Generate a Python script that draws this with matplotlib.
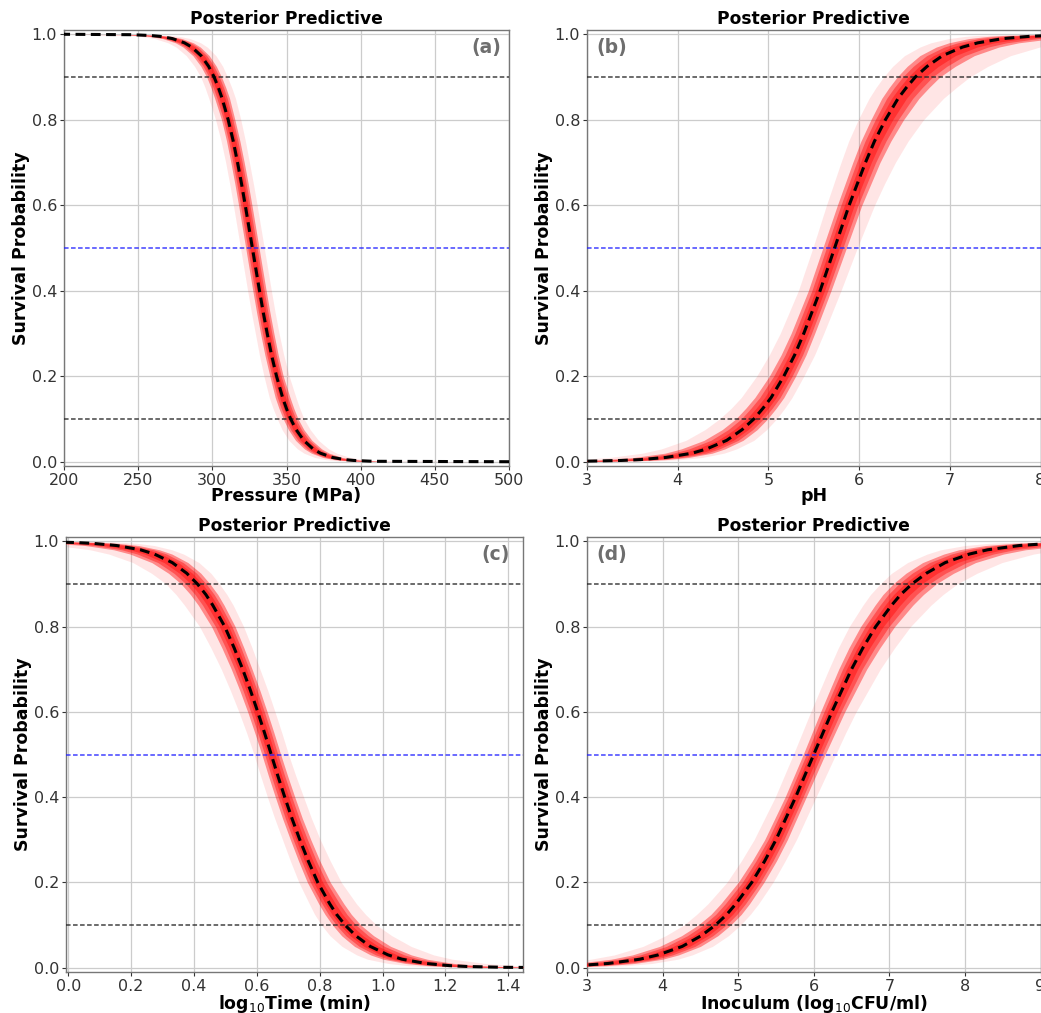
import matplotlib
matplotlib.use("Agg")
import matplotlib.pyplot as plt
import numpy as np

levels = [0, 0.001, 0.003, 0.005, 0.01, 0.02, 0.03, 0.05, 0.075, 0.1, 0.125, 0.15,
          0.2, 0.25, 0.3, 0.35, 0.4, 0.45, 0.5, 0.55, 0.6, 0.65, 0.7, 0.75,
          0.8, 0.85, 0.875, 0.9, 0.925, 0.95, 0.97, 0.98, 0.99, 0.995, 0.997, 0.999, 1]

# (a) pressure: x of the mean curve at each level, and how far the red
# bundle reaches to the left / right of it (dense part and faint part)
a_mid = [500, 408.2, 395.3, 389.2, 381.0, 372.8, 367.9, 361.6, 356.5, 352.8, 349.9, 347.4,
         343.3, 339.9, 337.0, 334.3, 331.8, 329.4, 327.0, 324.6, 322.2, 319.7, 317.0, 314.1,
         310.7, 306.6, 304.1, 301.2, 297.5, 292.4, 286.1, 281.2, 273.0, 264.8, 258.7, 245.8, 200]
a_core_l = [0, 8, 7.5, 7, 6.5, 6, 5.8, 5.5, 5.2, 5, 5, 5, 4.5, 4.5, 4.5, 4.5, 4.5, 4.5, 4.5,
            4.5, 4.5, 4.5, 4.5, 4.5, 4.5, 5, 5, 5, 5.2, 5.5, 5.8, 6, 6.5, 7, 7.5, 8, 0]
a_core_r = a_core_l
a_faint_l = [0, 14, 13.5, 13, 12, 11, 10.5, 10, 9.5, 9, 9, 9, 8.5, 8.2, 8, 8, 8, 8, 8,
             8, 8, 8, 8, 8.2, 8.5, 9, 9, 9, 9.5, 10, 10.5, 11, 12, 13, 13.5, 14, 0]
a_faint_r = a_faint_l

# (b) pH
b_mid = [2.5, 2.93, 3.38, 3.59, 3.87, 4.16, 4.32, 4.54, 4.71, 4.84, 4.94, 5.03,
         5.17, 5.29, 5.39, 5.48, 5.57, 5.65, 5.73, 5.81, 5.89, 5.98, 6.07, 6.17,
         6.29, 6.43, 6.52, 6.62, 6.75, 6.92, 7.14, 7.31, 7.59, 7.87, 8.08, 8.53, 9.0]
b_core_l = [0, .45, .42, .4, .35, .3, .28, .25, .22, .2, .19, .18, .16, .15, .14, .135, .13, .13, .13,
            .13, .13, .135, .14, .15, .16, .18, .19, .2, .22, .25, .29, .32, .38, .45, .52, .6, 0]
b_core_r = [0, .3, .29, .28, .25, .22, .2, .18, .165, .15, .145, .14, .13, .125, .12, .12, .12, .125, .13,
            .135, .14, .15, .16, .18, .2, .23, .25, .27, .31, .35, .4, .45, .55, .65, .72, .8, 0]
b_faint_l = [0, .8, .75, .7, .62, .55, .5, .45, .41, .38, .35, .33, .3, .28, .26, .25, .24, .24, .24,
             .245, .25, .26, .27, .285, .3, .32, .335, .35, .38, .42, .47, .52, .6, .7, .8, .9, 0]
b_faint_r = [0, .5, .47, .45, .4, .35, .33, .3, .27, .25, .24, .23, .22, .22, .22, .225, .23, .24, .25,
             .265, .28, .3, .33, .37, .42, .5, .55, .6, .67, .75, .85, .95, 1.1, 1.25, 1.35, 1.5, 0]

# (c) log10 time
c_mid = [1.61, 1.385, 1.267, 1.212, 1.138, 1.062, 1.018, 0.961, 0.915, 0.881, 0.854, 0.832,
         0.794, 0.764, 0.737, 0.712, 0.689, 0.667, 0.646, 0.625, 0.603, 0.580, 0.555, 0.528,
         0.498, 0.460, 0.438, 0.411, 0.377, 0.331, 0.274, 0.230, 0.154, 0.080, 0.025, -0.093, -0.2]
c_core_l = [0, .08, .075, .07, .065, .06, .056, .05, .045, .04, .037, .035, .033, .031, .03, .03, .03, .03, .03,
            .031, .032, .034, .036, .039, .042, .046, .049, .052, .058, .065, .077, .085, .1, .12, .135, .15, 0]
c_core_r = [0, .12, .11, .1, .09, .08, .074, .065, .057, .05, .047, .045, .04, .037, .035, .033, .032, .031, .03,
            .03, .03, .03, .03, .031, .033, .036, .038, .04, .045, .05, .056, .06, .07, .08, .09, .1, 0]
c_faint_l = [0, .15, .14, .13, .12, .11, .1, .09, .082, .075, .07, .065, .06, .057, .055, .055, .055, .055, .055,
             .057, .06, .064, .068, .074, .08, .09, .095, .1, .112, .125, .145, .16, .19, .22, .25, .28, 0]
c_faint_r = [0, .25, .23, .21, .19, .16, .145, .13, .115, .1, .092, .085, .075, .07, .065, .062, .06, .057, .055,
             .055, .055, .055, .055, .057, .06, .065, .067, .07, .077, .085, .093, .1, .12, .14, .16, .18, 0]

# (d) inoculum
d_mid = [1.0, 1.91, 2.56, 2.87, 3.28, 3.70, 3.94, 4.26, 4.51, 4.70, 4.85, 4.97,
         5.18, 5.35, 5.50, 5.63, 5.76, 5.88, 6.00, 6.12, 6.24, 6.37, 6.50, 6.65,
         6.82, 7.03, 7.15, 7.30, 7.49, 7.74, 8.06, 8.30, 8.72, 9.13, 9.44, 10.09, 11.0]
d_core_l = [0, .6, .55, .5, .45, .38, .34, .3, .26, .23, .21, .2, .18, .165, .15, .145, .14, .14, .14,
            .145, .15, .16, .17, .185, .2, .22, .235, .25, .27, .3, .34, .38, .45, .5, .55, .6, 0]
d_core_r = [0, .5, .45, .4, .35, .3, .27, .24, .22, .2, .19, .18, .16, .155, .15, .145, .14, .145, .15,
            .16, .17, .185, .2, .225, .25, .28, .3, .32, .36, .4, .45, .5, .6, .7, .8, .9, 0]
d_faint_l = [0, 1.0, .92, .85, .75, .65, .58, .52, .47, .42, .4, .37, .33, .31, .29, .28, .27, .27, .27,
             .275, .28, .29, .3, .325, .35, .38, .4, .42, .46, .5, .56, .62, .72, .82, .9, 1.0, 0]
d_faint_r = [0, .8, .72, .65, .58, .5, .45, .4, .36, .33, .31, .3, .28, .27, .27, .27, .27, .28, .29,
             .3, .32, .35, .38, .42, .46, .52, .56, .6, .67, .75, .85, .95, 1.1, 1.25, 1.35, 1.5, 0]

thresholds = [0.9, 0.5, 0.1]
threshold_colors = ['#222222', '#2020ff', '#222222']

W, H = 1041, 1013
fig = plt.figure(figsize=(W / 100, H / 100), dpi=100)


def panel(box, mid, core_l, core_r, faint_l, faint_r, xlim, xticks, xlabel, tag, tag_x):
    left, right, top, bottom = box
    ax = fig.add_axes([left / W, 1 - bottom / H, (right - left) / W, (bottom - top) / H])
    mid = np.array(mid)
    # faint outer curves, then a few nested layers so the bundle gets denser toward the middle
    ax.fill_betweenx(levels, mid - np.array(faint_l), mid + np.array(faint_r),
                     color='#ff3030', alpha=0.12, lw=0, zorder=2)
    for f in (1.0, 0.7, 0.4):
        ax.fill_betweenx(levels, mid - f * np.array(core_l), mid + f * np.array(core_r),
                         color='#ff0000', alpha=0.4, lw=0, zorder=3)
    for y, c in zip(thresholds, threshold_colors):
        ax.axhline(y, color=c, lw=1.1, dashes=(3, 1.6), alpha=0.85, zorder=4)
    ax.plot(mid, levels, color='black', lw=2.2, dashes=(3.2, 1.8), zorder=5)
    ax.set_xlim(*xlim)
    ax.set_ylim(-0.01, 1.01)
    ax.set_xticks(xticks)
    ax.set_yticks([0, 0.2, 0.4, 0.6, 0.8, 1.0])
    ax.grid(True, color='#cccccc', lw=0.9)
    ax.set_axisbelow(True)
    for s in ax.spines.values():
        s.set_color('#777777')
        s.set_linewidth(1.0)
    ax.tick_params(labelsize=11.5, colors='#333333', length=3, pad=2)
    ax.set_title('Posterior Predictive', fontsize=12.3, fontweight='bold', pad=4)
    ax.set_xlabel(xlabel, fontsize=12.5, fontweight='bold', labelpad=-1)
    ax.set_ylabel('Survival Probability', fontsize=12.5, fontweight='bold', labelpad=1)
    ax.text(tag_x, 0.96, tag, transform=ax.transAxes, ha='center', va='center',
            fontsize=13.5, fontweight='bold', color='#6e6e6e')
    return ax


panel((64, 509, 30, 466), a_mid, a_core_l, a_core_r, a_faint_l, a_faint_r,
      (200, 500), [200, 250, 300, 350, 400, 450, 500], 'Pressure (MPa)', '(a)', 0.95)
panel((587, 1040.5, 30, 466), b_mid, b_core_l, b_core_r, b_faint_l, b_faint_r,
      (3, 8), [3, 4, 5, 6, 7, 8], 'pH', '(b)', 0.055)
panel((66, 523, 537, 972), c_mid, c_core_l, c_core_r, c_faint_l, c_faint_r,
      (-0.007, 1.447), [0.0, 0.2, 0.4, 0.6, 0.8, 1.0, 1.2, 1.4], r'log$_{10}$Time (min)', '(c)', 0.94)
panel((587, 1040.5, 537, 972), d_mid, d_core_l, d_core_r, d_faint_l, d_faint_r,
      (3, 9), [3, 4, 5, 6, 7, 8, 9], r'Inoculum (log$_{10}$CFU/ml)', '(d)', 0.055)

fig.savefig('out.png', dpi=100)
